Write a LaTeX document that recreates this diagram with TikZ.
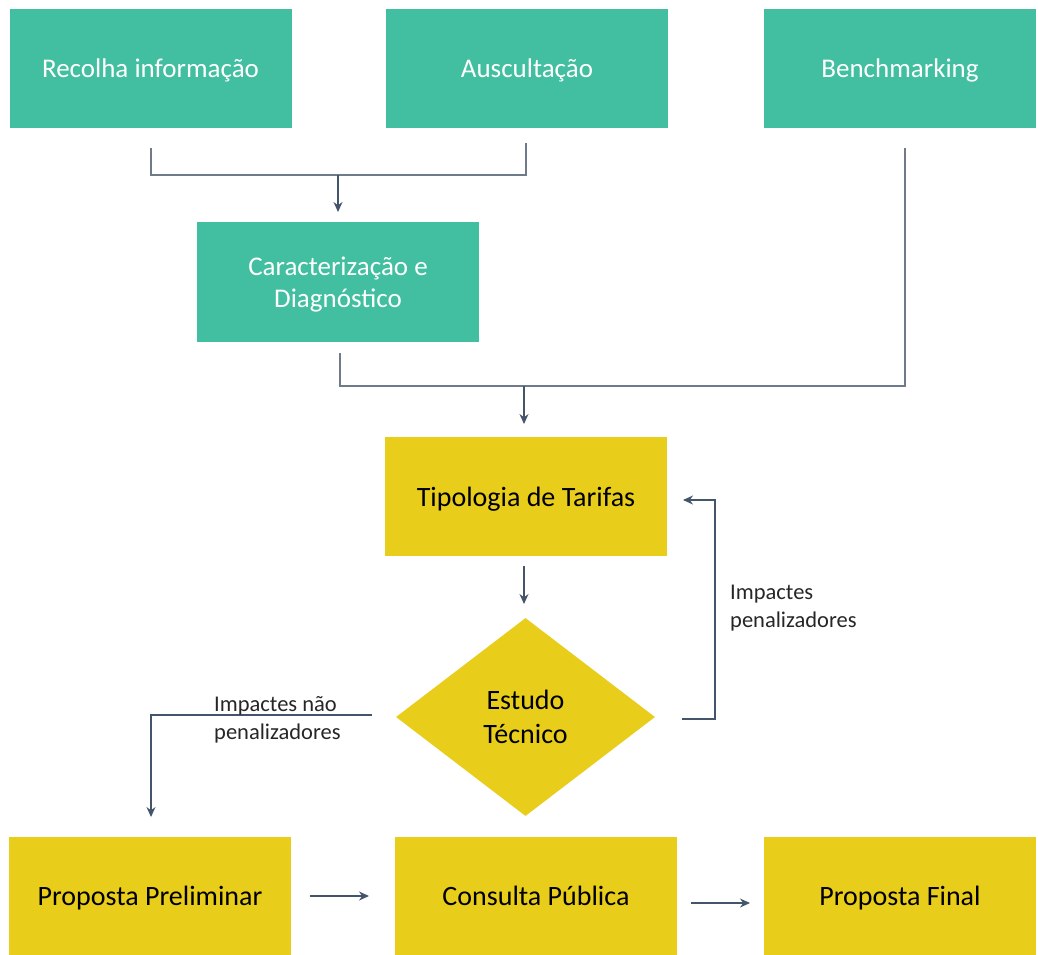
\documentclass[tikz,border=0pt]{standalone}
\usepackage{fontspec}
\setmainfont{Carlito}
\usetikzlibrary{shapes.geometric,arrows.meta}
\definecolor{boxgreen}{HTML}{41BFA0}
\definecolor{boxyellow}{HTML}{E8CD1A}
\definecolor{lineblue}{HTML}{44546A}
\definecolor{linegray}{HTML}{6F7A8A}
\tikzset{
  gbox/.style={fill=boxgreen, text=white, minimum width=282pt, minimum height=119pt, inner sep=0pt, font=\fontsize{27}{32}\selectfont, align=center, text depth=0pt},
  ybox/.style={fill=boxyellow, text=black, minimum width=282pt, minimum height=119pt, inner sep=0pt, font=\fontsize{28}{34}\selectfont, align=center, text depth=0pt},
  conn/.style={draw=linegray, line width=1.2pt},
  arr/.style={draw=lineblue, line width=1.2pt, -{Stealth[length=10pt,width=9pt]}},
  lbl/.style={font=\fontsize{22.5}{28}\selectfont, text=black!85, align=left, anchor=north west, inner sep=0pt},
}
\begin{document}
\begin{tikzpicture}[x=1pt,y=1pt]
\useasboundingbox (0,0) rectangle (1038,-954);
% top row
\node[gbox] (rec) at (150.5,-68) {Recolha informação};
\node[gbox] (aus) at (527,-68) {Auscultação};
\node[gbox, minimum width=272pt] (ben) at (900,-68) {Benchmarking};
\node[gbox, minimum height=120pt] (car) at (338,-282) {Caracterização e\\Diagnóstico};
% middle
\node[ybox] (tip) at (526,-496.5) {Tipologia de Tarifas};
\node[ybox, diamond, minimum width=259pt, minimum height=198pt, aspect=1.31] (est) at (525.5,-717) {Estudo\\Técnico};
% bottom
\node[ybox, minimum height=118pt] (pp) at (150,-895.5) {Proposta Preliminar};
\node[ybox, minimum height=118pt] (cp) at (536,-895.5) {Consulta Pública};
\node[ybox, minimum width=272pt, minimum height=118pt] (pf) at (900,-895.5) {Proposta Final};

% coordinates
\coordinate (r1) at (151,-148);
\coordinate (a1) at (526,-143);
\coordinate (j1) at (338,-175);
\coordinate (j1e) at (338,-212);
\coordinate (c1) at (340,-353);
\coordinate (b1) at (905,-148);
\coordinate (j2) at (524,-386);
\coordinate (j2e) at (524,-424);
\coordinate (t1) at (524,-566);
\coordinate (e1) at (524,-604);
\coordinate (er) at (682,-719);
\coordinate (tr) at (683,-500);
\coordinate (el) at (372,-715);
\coordinate (pl) at (151,-817);
\coordinate (p1) at (310,-896);
\coordinate (p2) at (369,-896);
\coordinate (q1) at (691,-903);
\coordinate (q2) at (750,-903);

% joins
\draw[conn] (r1) |- (j1) -| (a1);
\draw[arr] (j1) -- (j1e);
\draw[conn] (c1) |- (j2) -| (b1);
\draw[arr] (j2) -- (j2e);
\draw[arr] (t1) -- (e1);
\draw[arr] (er) -- (715,-719) |- (tr);
\draw[arr] (el) -| (pl);
\draw[arr] (p1) -- (p2);
\draw[arr] (q1) -- (q2);

% labels
\node[lbl] (l1) at (730,-585) {Impactes\\penalizadores};
\node[lbl] (l2) at (214,-696) {Impactes não\\penalizadores};
\end{tikzpicture}
\end{document}
